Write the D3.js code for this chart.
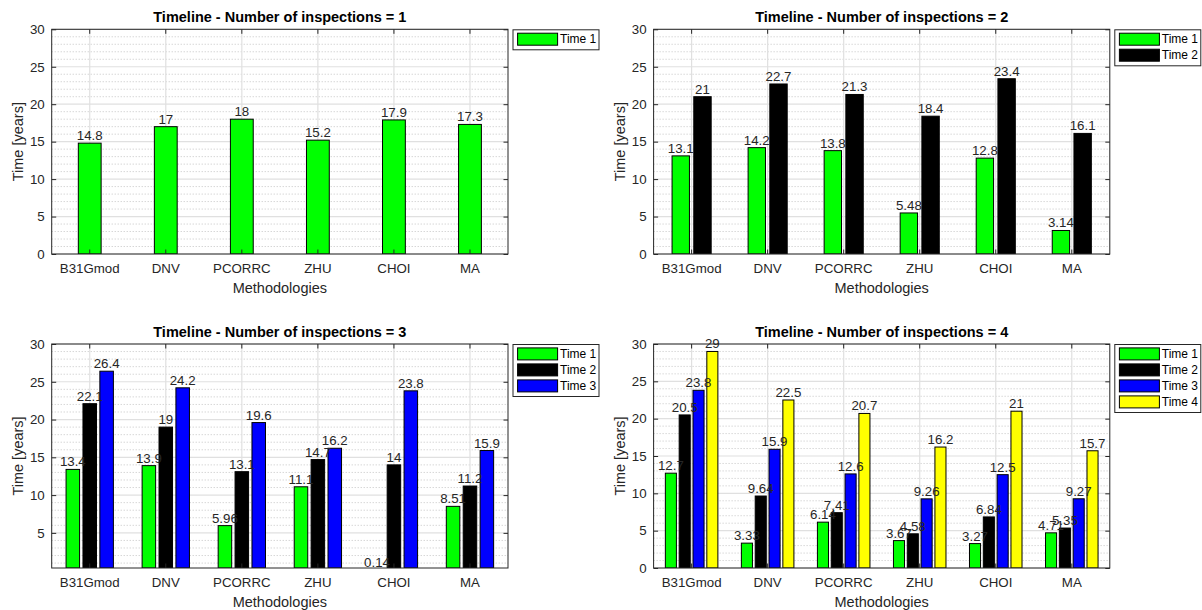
<!DOCTYPE html>
<html>
<head>
<meta charset="utf-8">
<style>
body {margin:0; background:#fff;}
svg {display:block; font-family:"Liberation Sans", Arial, sans-serif;}
</style>
<script src="https://d3js.org/d3.v7.min.js"></script>
</head>
<body>
<div id="chart"></div>
<script>
// data
var categories = ["B31Gmod", "DNV", "PCORRC", "ZHU", "CHOI", "MA"]
var seriesNames = ["Time 1", "Time 2", "Time 3", "Time 4"]
var seriesColors = ["#00ff00", "#000000", "#0000ff", "#ffff00"]

var insp1Time1 = [14.8, 17, 18, 15.2, 17.9, 17.3]

var insp2Time1 = [13.1, 14.2, 13.8, 5.48, 12.8, 3.14]
var insp2Time2 = [21, 22.7, 21.3, 18.4, 23.4, 16.1]

var insp3Time1 = [13.4, 13.9, 5.96, 11.1, 0.14, 8.51]
var insp3Time2 = [22.1, 19, 13.1, 14.7, 14, 11.2]
var insp3Time3 = [26.4, 24.2, 19.6, 16.2, 23.8, 15.9]

var insp4Time1 = [12.7, 3.33, 6.14, 3.67, 3.27, 4.71]
var insp4Time2 = [20.5, 9.64, 7.41, 4.58, 6.84, 5.35]
var insp4Time3 = [23.8, 15.9, 12.6, 9.26, 12.5, 9.27]
var insp4Time4 = [29, 22.5, 20.7, 16.2, 21, 15.7]

var yTicksFull = [0, 5, 10, 15, 20, 25, 30]
var yTicksNoZero = [5, 10, 15, 20, 25, 30]

var panels = [
  {title: "Timeline - Number of inspections = 1", series: [insp1Time1], yMin: 0, yTicks: yTicksFull},
  {title: "Timeline - Number of inspections = 2", series: [insp2Time1, insp2Time2], yMin: 0, yTicks: yTicksFull},
  {title: "Timeline - Number of inspections = 3", series: [insp3Time1, insp3Time2, insp3Time3], yMin: 0.35, yTicks: yTicksNoZero},
  {title: "Timeline - Number of inspections = 4", series: [insp4Time1, insp4Time2, insp4Time3, insp4Time4], yMin: 0, yTicks: yTicksFull}
]

// axes boxes in the page
var boxes = [
  {x0: 51.7, x1: 508, y0: 29.3, y1: 254},
  {x0: 653.6, x1: 1109.8, y0: 29.3, y1: 254},
  {x0: 51.7, x1: 508, y0: 344, y1: 568},
  {x0: 653.6, x1: 1109.8, y0: 344, y1: 568}
]

var width = 1202, height = 610
var axisColor = "#262626"

var svg = d3.select("#chart")
  .append("svg")
    .attr("width", width)
    .attr("height", height)

panels.forEach(function(p, idx) { drawPanel(p, boxes[idx], idx) })

function drawPanel(p, box, idx) {
  var g = svg.append("g")
  var n = p.series.length

  var x = d3.scaleBand().domain(categories).range([box.x0, box.x1]).padding(0)
  var bw = x.bandwidth()
  // MATLAB-like grouped bar width
  var gw = n === 1 ? 0.375 : n / (n + 1.5)
  var xs = d3.scaleBand().domain(d3.range(n))
    .range([bw * (0.5 - gw / 2), bw * (0.5 + gw / 2)])
    .paddingInner(0.2).paddingOuter(0.1)
  var y = d3.scaleLinear().domain([p.yMin, 30]).range([box.y1, box.y0])

  g.append("rect")
    .attr("x", box.x0).attr("y", box.y0)
    .attr("width", box.x1 - box.x0).attr("height", box.y1 - box.y0)
    .attr("fill", "#fff")

  // minor grid (dotted, every 1)
  var minor = d3.range(Math.ceil(p.yMin), 31).filter(function(v) { return v % 5 !== 0 })
  g.selectAll(".minor")
    .data(minor)
    .enter()
    .append("line")
      .attr("x1", box.x0).attr("x2", box.x1)
      .attr("y1", function(d) { return y(d) }).attr("y2", function(d) { return y(d) })
      .attr("stroke", "#c4c4c4")
      .attr("stroke-width", 1)
      .attr("stroke-dasharray", "1,2")

  // major grid
  g.selectAll(".majorY")
    .data(p.yTicks)
    .enter()
    .append("line")
      .attr("x1", box.x0).attr("x2", box.x1)
      .attr("y1", function(d) { return y(d) }).attr("y2", function(d) { return y(d) })
      .attr("stroke", "#e0e0e0")
      .attr("stroke-width", 1.2)
  g.selectAll(".majorX")
    .data(categories)
    .enter()
    .append("line")
      .attr("x1", function(d) { return x(d) + bw / 2 }).attr("x2", function(d) { return x(d) + bw / 2 })
      .attr("y1", box.y0).attr("y2", box.y1)
      .attr("stroke", "#e0e0e0")
      .attr("stroke-width", 1.2)

  // clip for bars
  var clipId = "clip" + idx
  svg.append("clipPath").attr("id", clipId)
    .append("rect")
      .attr("x", box.x0).attr("y", box.y0)
      .attr("width", box.x1 - box.x0).attr("height", box.y1 - box.y0)

  var bars = g.append("g").attr("clip-path", "url(#" + clipId + ")")
  p.series.forEach(function(vals, si) {
    bars.selectAll(".bar" + si)
      .data(vals)
      .enter()
      .append("rect")
        .attr("x", function(d, i) { return x(categories[i]) + xs(si) })
        .attr("y", function(d) { return y(d) })
        .attr("width", xs.bandwidth())
        .attr("height", function(d) { return Math.max(0, y(p.yMin) - y(d)) })
        .attr("fill", seriesColors[si])
        .attr("stroke", "#000")
        .attr("stroke-width", 1)
  })

  // value labels
  p.series.forEach(function(vals, si) {
    g.selectAll(".lab" + si)
      .data(vals)
      .enter()
      .append("text")
        .text(function(d) { return d })
        .attr("x", function(d, i) { return x(categories[i]) + xs(si) + xs.bandwidth() / 2 })
        .attr("y", function(d) { return y(d) - 3 })
        .attr("text-anchor", "middle")
        .style("font-size", "13.3px")
        .attr("fill", axisColor)
  })

  // axes
  var axL = g.append("g")
    .attr("transform", "translate(" + box.x0 + ",0)")
    .call(d3.axisLeft(y).tickValues(p.yTicks).tickSizeInner(-4.5).tickSizeOuter(0).tickPadding(7))
  var axR = g.append("g")
    .attr("transform", "translate(" + box.x1 + ",0)")
    .call(d3.axisRight(y).tickValues(p.yTicks).tickSizeInner(-4.5).tickSizeOuter(0).tickFormat(""))
  var axB = g.append("g")
    .attr("transform", "translate(0," + box.y1 + ")")
    .call(d3.axisBottom(x).tickSizeInner(-4.5).tickSizeOuter(0).tickPadding(10))
  var axT = g.append("g")
    .attr("transform", "translate(0," + box.y0 + ")")
    .call(d3.axisTop(x).tickSizeInner(-4.5).tickSizeOuter(0).tickFormat(""))

  ;[axL, axR, axB, axT].forEach(function(a) {
    a.select(".domain").remove()
    a.selectAll("line").attr("stroke", axisColor)
    a.selectAll("text")
      .attr("fill", axisColor)
      .style("font-size", "13.3px")
      .style("font-family", "'Liberation Sans', Arial, sans-serif")
  })

  g.append("rect")
    .attr("x", box.x0).attr("y", box.y0)
    .attr("width", box.x1 - box.x0).attr("height", box.y1 - box.y0)
    .attr("fill", "none")
    .attr("stroke", axisColor)
    .attr("stroke-width", 1)

  // title and labels
  g.append("text")
    .text(p.title)
    .attr("x", (box.x0 + box.x1) / 2)
    .attr("y", box.y0 - 7.5)
    .attr("text-anchor", "middle")
    .style("font-size", "14.5px")
    .style("font-weight", "bold")
    .attr("fill", "#000")

  g.append("text")
    .text("Methodologies")
    .attr("x", (box.x0 + box.x1) / 2)
    .attr("y", box.y1 + 38.5)
    .attr("text-anchor", "middle")
    .style("font-size", "14.5px")
    .attr("fill", axisColor)

  g.append("text")
    .text("Time [years]")
    .attr("transform", "translate(" + (box.x0 - 28.7) + "," + ((box.y0 + box.y1) / 2) + ") rotate(-90)")
    .attr("text-anchor", "middle")
    .style("font-size", "14.5px")
    .attr("fill", axisColor)

  // legend
  var lx = box.x1 + 5, ly = box.y0 + 0.5
  var leg = g.append("g").attr("transform", "translate(" + lx + "," + ly + ")")
  leg.append("rect")
    .attr("width", 86).attr("height", 4 + 16 * n)
    .attr("fill", "#fff")
    .attr("stroke", axisColor)
    .attr("stroke-width", 1)
  leg.selectAll(".sw")
    .data(d3.range(n))
    .enter()
    .append("rect")
      .attr("x", 4.6)
      .attr("y", function(d) { return 3.4 + 16 * d })
      .attr("width", 40).attr("height", 12)
      .attr("fill", function(d) { return seriesColors[d] })
      .attr("stroke", "#000")
  leg.selectAll(".lt")
    .data(d3.range(n))
    .enter()
    .append("text")
      .text(function(d) { return seriesNames[d] })
      .attr("x", 47)
      .attr("y", function(d) { return 3.4 + 16 * d + 10.3 })
      .style("font-size", "12px")
      .attr("fill", "#000")
}
</script>
</body>
</html>
